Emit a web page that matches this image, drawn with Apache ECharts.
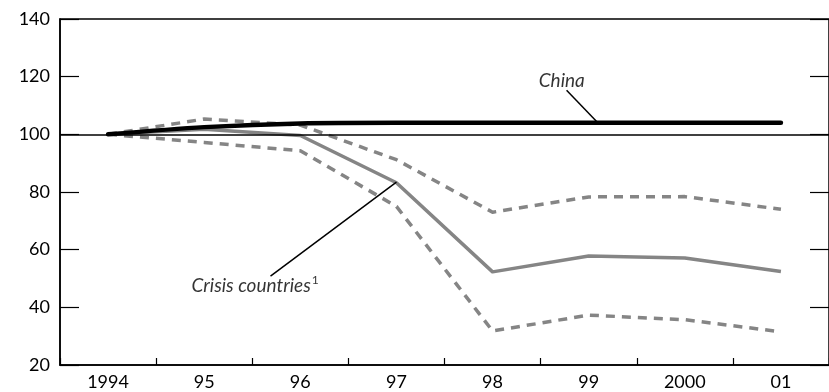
<!DOCTYPE html>
<html>
<head>
<meta charset="utf-8">
<script src="https://cdn.jsdelivr.net/npm/echarts@6/dist/echarts.min.js"></script>
<style>
html,body{margin:0;padding:0;background:#fff;}
#c{width:829px;height:392px;}
</style>
</head>
<body>
<div id="c"></div>
<script>
// Data
var yearLabels = ['1994', '95', '96', '97', '98', '99', '2000', '01'];
var china = [100, 102.5, 103.8, 104, 104, 104, 104, 104];
var crisis = [100, 101.8, 99.6, 83.2, 52.3, 57.8, 57.1, 52.4];
var crisisUpper = [100, 105.3, 103.2, 91.2, 73.0, 78.3, 78.4, 74.0];
var crisisLower = [100, 97.2, 94.3, 75.0, 31.8, 37.3, 35.7, 31.5];
var yTicks = [20, 40, 60, 80, 100, 120, 140];

function pts(arr) { return arr.map(function (v, i) { return [i + 0.5, v]; }); }

var FONT = 'Lato';
var GRAY = '#858585';

var chart = echarts.init(document.getElementById('c'), null, { renderer: 'canvas' });
chart.setOption({
  animation: false,
  backgroundColor: '#ffffff',
  grid: { left: 60, right: -4, top: 19, bottom: 27, show: true, borderColor: '#000', borderWidth: 1.5, backgroundColor: 'transparent' },
  xAxis: [
    {
      type: 'value', min: 0, max: 8, interval: 1,
      axisLine: { show: true, lineStyle: { color: '#000', width: 1.5 } },
      axisTick: { show: true, inside: true, length: 7, lineStyle: { color: '#000', width: 1.2 } },
      axisLabel: { show: false },
      splitLine: { show: false }
    },
    {
      type: 'category', data: yearLabels, position: 'bottom', boundaryGap: true,
      axisLine: { show: false }, axisTick: { show: false }, splitLine: { show: false },
      axisLabel: { show: true, color: '#000', fontFamily: FONT, fontSize: 18, margin: 8 }
    }
  ],
  yAxis: [
    {
      type: 'value', min: yTicks[0], max: yTicks[yTicks.length - 1], interval: 20,
      axisLine: { show: true, lineStyle: { color: '#000', width: 1.5 } },
      axisTick: { show: true, inside: true, length: 19, lineStyle: { color: '#000', width: 1.2 } },
      axisLabel: { show: true, color: '#000', fontFamily: FONT, fontSize: 18, margin: 10 },
      splitLine: { show: false }
    },
    {
      type: 'value', position: 'right', min: yTicks[0], max: yTicks[yTicks.length - 1], interval: 20,
      axisLine: { show: false },
      axisTick: { show: true, inside: true, length: 19, lineStyle: { color: '#000', width: 1.2 } },
      axisLabel: { show: false }, splitLine: { show: false }
    }
  ],
  series: [
    {
      name: 'Upper', type: 'line', data: pts(crisisUpper), smooth: false, symbol: 'none',
      lineStyle: { color: GRAY, width: 3.5, type: [9, 7], join: 'round' }, z: 2
    },
    {
      name: 'Lower', type: 'line', data: pts(crisisLower), smooth: false, symbol: 'none',
      lineStyle: { color: GRAY, width: 3.5, type: [9, 7], join: 'round' }, z: 2
    },
    {
      name: 'Crisis countries', type: 'line', data: pts(crisis), smooth: false, symbol: 'none',
      lineStyle: { color: GRAY, width: 3.5, join: 'round' }, z: 3
    },
    {
      name: 'China', type: 'line', data: pts(china), smooth: 0.3, symbol: 'none',
      lineStyle: { color: '#000', width: 4.5, cap: 'round' }, z: 4,
      markLine: {
        silent: true, symbol: 'none', label: { show: false },
        lineStyle: { color: '#000', width: 1.5, type: 'solid' },
        data: [
          { yAxis: 100 },
          [{ coord: [5.27, 115.3] }, { coord: [5.59, 104.2] }],
          [{ coord: [2.19, 50.8] }, { coord: [3.5, 83.4] }]
        ]
      }
    },
    {
      name: 'labels', type: 'scatter', symbolSize: 0, silent: true, z: 5,
      data: [
        { value: [5.22, 118.7], label: { formatter: 'China' } },
        { value: [2.03, 47.6], label: { formatter: 'Crisis countries{s|1}' } }
      ],
      label: {
        show: true, position: 'inside', color: '#000', fontFamily: FONT, fontStyle: 'italic', fontSize: 19,
        rich: { s: { fontFamily: FONT, fontStyle: 'normal', fontSize: 12, verticalAlign: 'top', padding: [0, 0, 10, 1], color: '#000' } }
      }
    }
  ]
});
</script>
</body>
</html>
